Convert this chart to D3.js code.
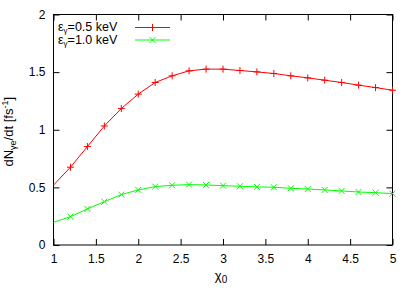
<!DOCTYPE html>
<html>
<head>
<meta charset="utf-8">
<script src="https://cdn.jsdelivr.net/npm/d3@7"></script>
<style>
  body { margin: 0; background: #fff; }
  text { font-family: "Liberation Sans", Arial, sans-serif; }
</style>
</head>
<body>
<script>
// chi0 values, step 0.2
const chi = [1.0, 1.2, 1.4, 1.6, 1.8, 2.0, 2.2, 2.4, 2.6, 2.8, 3.0,
             3.2, 3.4, 3.6, 3.8, 4.0, 4.2, 4.4, 4.6, 4.8, 5.0];
const rate05 = [0.52, 0.675, 0.854, 1.033, 1.184, 1.309, 1.41, 1.468, 1.511, 1.526, 1.526,
                1.514, 1.502, 1.488, 1.468, 1.45, 1.43, 1.41, 1.387, 1.366, 1.343];
const rate10 = [0.197, 0.246, 0.313, 0.376, 0.437, 0.478, 0.507, 0.518, 0.524, 0.521, 0.515,
                0.51, 0.504, 0.501, 0.492, 0.486, 0.478, 0.469, 0.46, 0.454, 0.446];
const xTicks = [1, 1.5, 2, 2.5, 3, 3.5, 4, 4.5, 5];
const yTicks = [0, 0.5, 1, 1.5, 2];
const seriesNames = ["0.5 keV", "1.0 keV"];
const seriesColors = ["#ff0000", "#00ff00"];

const W = 415, H = 297;
const m = { left: 53.5, right: 22.5, top: 14.5, bottom: 52 };

const svg = d3.select("body").append("svg")
    .attr("width", W)
    .attr("height", H);

const x = d3.scaleLinear().domain([1, 5]).range([m.left, W - m.right]);
const y = d3.scaleLinear().domain([0, 2]).range([H - m.bottom, m.top]);

const tick = 6;

// bottom axis with inward ticks
const gx = svg.append("g")
    .attr("transform", "translate(0," + y(0) + ")")
    .call(d3.axisBottom(x).tickValues(xTicks).tickSizeInner(-tick).tickSizeOuter(0)
        .tickPadding(9).tickFormat(d3.format("~g")));
// top mirror ticks
const gxt = svg.append("g")
    .attr("transform", "translate(0," + y(2) + ")")
    .call(d3.axisTop(x).tickValues(xTicks).tickSizeInner(-tick).tickSizeOuter(0).tickFormat(""));
// left axis
const gy = svg.append("g")
    .attr("transform", "translate(" + x(1) + ",0)")
    .call(d3.axisLeft(y).tickValues(yTicks).tickSizeInner(-tick).tickSizeOuter(0)
        .tickPadding(8).tickFormat(d3.format("~g")));
// right mirror ticks
const gyr = svg.append("g")
    .attr("transform", "translate(" + x(5) + ",0)")
    .call(d3.axisRight(y).tickValues(yTicks).tickSizeInner(-tick).tickSizeOuter(0).tickFormat(""));

[gx, gxt, gy, gyr].forEach(function (g) {
    g.select(".domain").remove();
    g.selectAll("line").attr("stroke", "#000");
    g.selectAll("text").attr("font-size", "12px").attr("fill", "#000")
        .style("font-family", "'Liberation Sans', Arial, sans-serif");
});

// border
svg.append("rect")
    .attr("x", x(1))
    .attr("y", y(2))
    .attr("width", x(5) - x(1))
    .attr("height", y(0) - y(2))
    .attr("fill", "none")
    .attr("stroke", "#000")
    .attr("stroke-width", 1);

const line = d3.line()
    .x(function (d) { return x(d[0]); })
    .y(function (d) { return y(d[1]); });

function plus(g, cx, cy, c) {
    const s = 3.5;
    g.append("path")
        .attr("d", "M" + (cx - s) + "," + cy + "H" + (cx + s) + "M" + cx + "," + (cy - s) + "V" + (cy + s))
        .attr("stroke", c).attr("fill", "none");
}
function cross(g, cx, cy, c) {
    const s = 3;
    g.append("path")
        .attr("d", "M" + (cx - s) + "," + (cy - s) + "L" + (cx + s) + "," + (cy + s) +
            "M" + (cx - s) + "," + (cy + s) + "L" + (cx + s) + "," + (cy - s))
        .attr("stroke", c).attr("fill", "none");
}
const markers = [plus, cross];

[rate05, rate10].forEach(function (vals, i) {
    const pts = chi.map(function (c, k) { return [c, vals[k]]; });
    const g = svg.append("g");
    g.append("path")
        .datum(pts)
        .attr("d", line)
        .attr("fill", "none")
        .attr("stroke", seriesColors[i])
        .attr("stroke-width", 1);
    pts.slice(1).forEach(function (p) {
        markers[i](g, x(p[0]), y(p[1]), seriesColors[i]);
    });
});

// legend
seriesNames.forEach(function (name, i) {
    const ly = 27.5 + i * 12.5;
    const t = svg.append("text")
        .attr("x", 58)
        .attr("y", ly + 3.5)
        .attr("font-size", "12.5px")
        .attr("fill", "#000");
    t.append("tspan").text("ε");
    t.append("tspan").attr("font-size", "8px").attr("dy", 2).text("γ");
    t.append("tspan").attr("dy", -2).text("=" + name);
    svg.append("line")
        .attr("x1", 135).attr("x2", 170)
        .attr("y1", ly).attr("y2", ly)
        .attr("stroke", seriesColors[i]);
    markers[i](svg, 152.5, ly, seriesColors[i]);
});

// axis labels
const xl = svg.append("text")
    .attr("x", (x(1) + x(5)) / 2 - 2)
    .attr("y", 280)
    .attr("text-anchor", "middle")
    .attr("font-size", "13px");
xl.append("tspan").text("χ");
xl.append("tspan").attr("font-size", "10px").attr("dy", 3).text("0");

const yl = svg.append("text")
    .attr("transform", "translate(13," + ((y(0) + y(2)) / 2 + 2) + ") rotate(-90)")
    .attr("text-anchor", "middle")
    .attr("font-size", "13px");
yl.append("tspan").text("dN");
yl.append("tspan").attr("font-size", "9px").attr("dy", 3).text("γe");
yl.append("tspan").attr("dy", -3).text("/dt [fs");
yl.append("tspan").attr("font-size", "9px").attr("dy", -5).text("-1");
yl.append("tspan").attr("dy", 5).text("]");
</script>
</body>
</html>
